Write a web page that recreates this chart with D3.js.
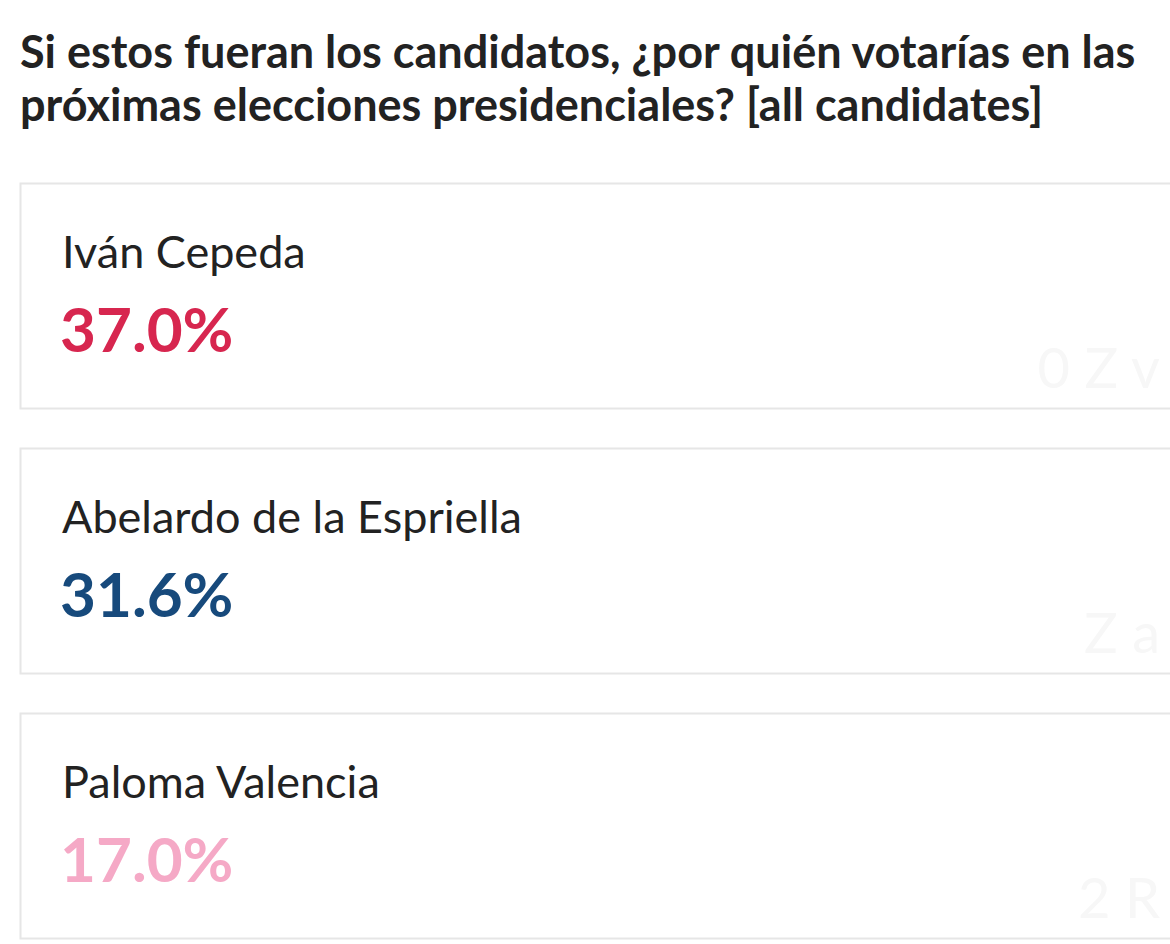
<!DOCTYPE html><html><head><meta charset="utf-8"><script src="https://cdn.jsdelivr.net/npm/d3@7"></script>
<style>body{margin:0;background:#fff}</style></head><body><script>
const titleLines=["Si estos fueran los candidatos, ¿por quién votarías en las","próximas elecciones presidenciales? [all candidates]"];
const candidates=["Iván Cepeda","Abelardo de la Espriella","Paloma Valencia"];
const values=[37.0,31.6,17.0];
const colors=["#d7264f","#174a7c","#f5a9c6"];
const ghosts=["0 Z v","Z a","2 R"];
const svg=d3.select("body").append("svg").attr("width",1170).attr("height",944).style("font-family","Lato");
svg.selectAll(".t").data(titleLines).join("text").attr("x",20).attr("y",(d,i)=>68+i*53)
 .attr("font-size",45).attr("font-weight",700).attr("fill","#222").text(d=>d);
const y=d3.scaleBand().domain(candidates).range([183,938]).paddingInner(40/265).paddingOuter(0);
const g=svg.selectAll(".c").data(candidates).join("g").attr("transform",d=>`translate(0,${y(d)})`);
g.append("rect").attr("x",20.5).attr("y",0.5).attr("width",1200).attr("height",y.bandwidth()).attr("fill","#fff").attr("stroke","#e6e6e6").attr("stroke-width",2);
g.append("text").attr("x",1160).attr("y",205).attr("text-anchor","end").attr("font-size",56).attr("fill","#f7f7f7").text((d,i)=>ghosts[i]);
g.append("text").attr("x",62).attr("y",85).attr("font-size",45).attr("fill","#222").text(d=>d);
g.append("text").attr("x",60).attr("y",169).attr("font-size",62).attr("font-weight",700).attr("fill",(d,i)=>colors[i]).text((d,i)=>values[i].toFixed(1)+"%");
</script></body></html>
